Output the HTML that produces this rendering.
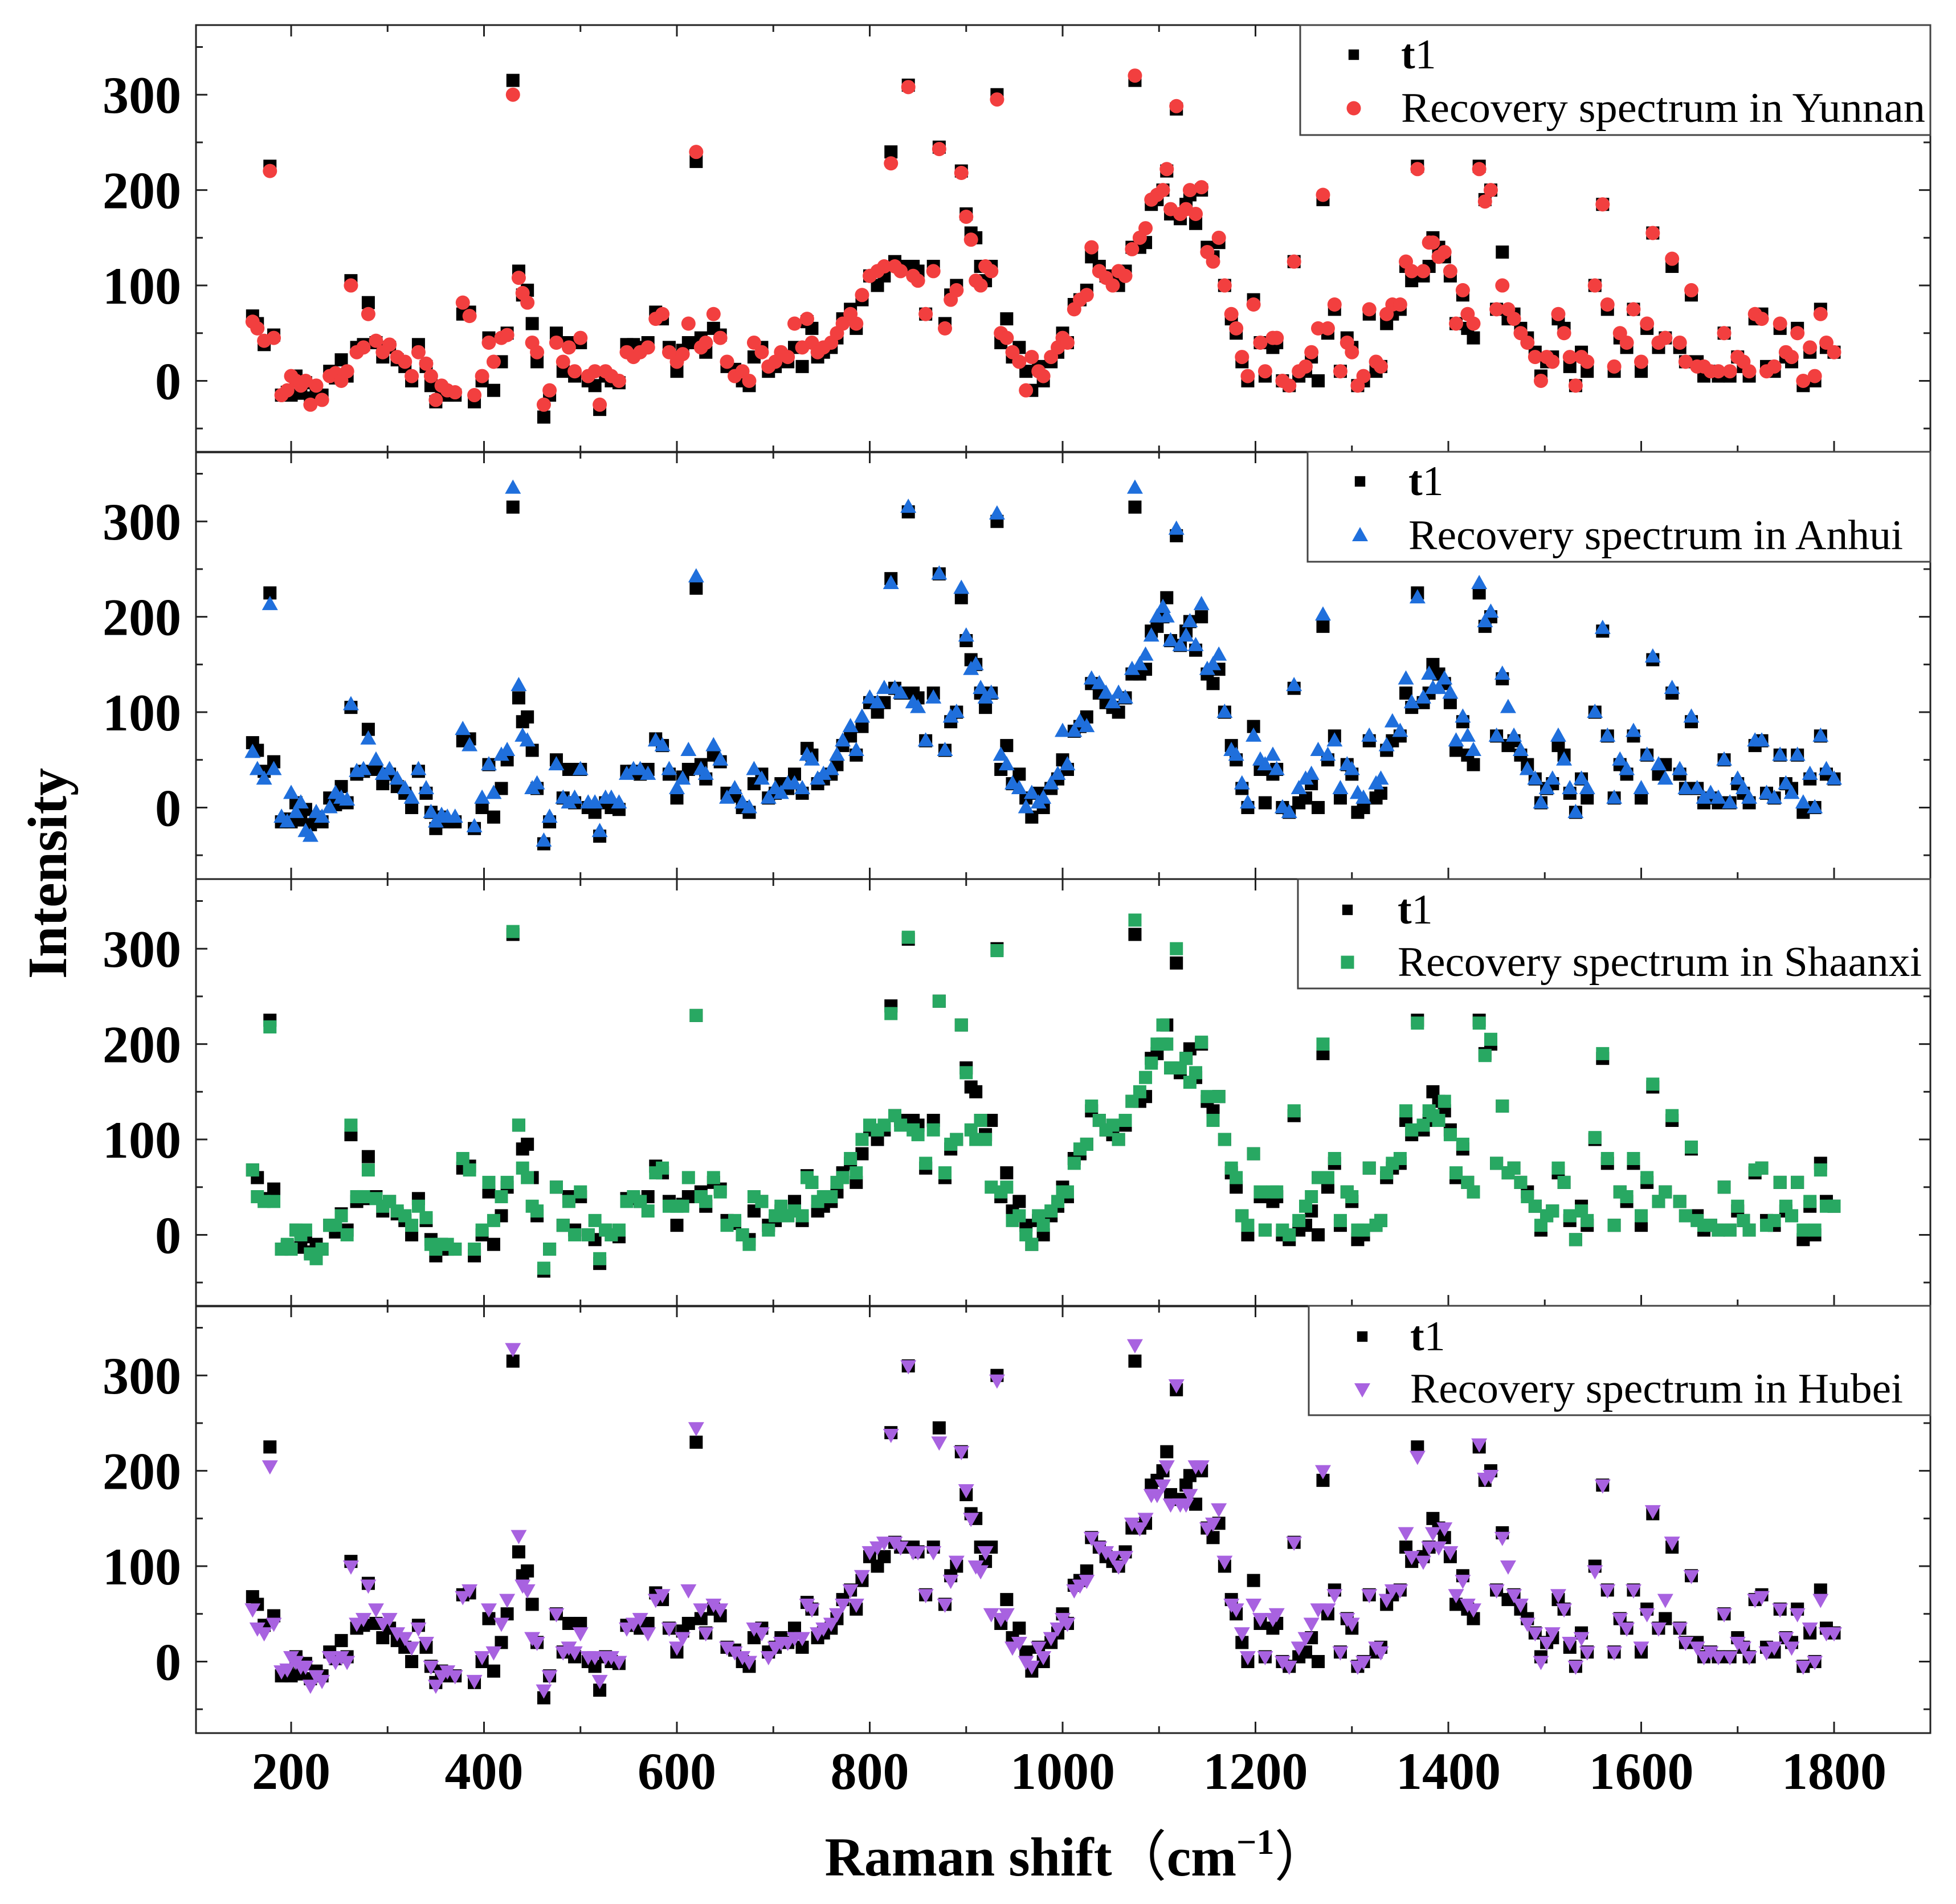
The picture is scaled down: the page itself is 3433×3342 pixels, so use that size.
<!DOCTYPE html>
<html><head><meta charset="utf-8"><style>
html,body{margin:0;padding:0;background:#fff;}
svg{display:block;}
text{font-family:"Liberation Serif","Noto Serif CJK SC",serif;}
</style></head><body>
<svg id="chart" width="3433" height="3342" viewBox="0 0 3433 3342" xmlns="http://www.w3.org/2000/svg">
<g id="frames"></g><g id="marks"></g><g id="axes"></g><g id="legends"></g>
<text x="0" y="0" transform="translate(116,1533) rotate(-90)" text-anchor="middle" font-size="98" font-weight="bold">Intensity</text>
<text x="1890" y="3292" text-anchor="middle" font-size="96" font-weight="bold">Raman shift<tspan font-family="Noto Sans CJK SC, sans-serif" font-weight="normal">（</tspan>cm<tspan dy="-38" font-size="62">−1</tspan><tspan dy="38" font-family="Noto Sans CJK SC, sans-serif" font-weight="normal">）</tspan></text>
</svg>
<script>
const xs=[160,165,172,178,182,190,196,200,205,210,
215,220,226,232,240,246,252,258,262,268,
275,280,288,295,302,310,318,325,332,340,
345,350,356,362,370,378,385,390,398,405,
410,418,424,430,436,440,445,450,455,462,
468,475,482,488,494,500,508,515,520,526,
532,540,548,555,562,570,578,585,592,600,
606,612,620,625,630,638,645,652,660,668,
675,680,688,695,702,708,715,722,730,735,
740,746,752,760,766,772,780,786,792,800,
808,815,822,826,832,840,845,850,858,866,
872,878,884,890,895,900,905,910,915,920,
926,932,936,942,948,955,962,968,975,980,
988,995,1000,1005,1012,1018,1025,1030,1038,1045,
1052,1058,1065,1072,1075,1080,1086,1092,1098,1104,
1108,1112,1118,1122,1128,1132,1138,1144,1150,1156,
1162,1168,1175,1180,1186,1192,1198,1205,1210,1218,
1222,1228,1235,1240,1245,1252,1258,1265,1270,1275,
1282,1288,1295,1300,1306,1312,1318,1325,1330,1336,
1342,1350,1356,1362,1368,1374,1380,1384,1390,1396,
1402,1408,1415,1420,1426,1432,1438,1444,1450,1456,
1462,1468,1475,1482,1490,1496,1502,1508,1514,1520,
1526,1532,1538,1544,1552,1560,1565,1572,1578,1585,
1592,1600,1606,1612,1618,1625,1632,1640,1646,1652,
1658,1665,1672,1680,1686,1692,1700,1706,1712,1718,
1725,1730,1738,1744,1750,1756,1762,1768,1775,1780,
1786,1792,1800];
const t1=[68,60,38,225,48,-15,-12,-15,5,-13,
-2,-18,-10,-15,10,3,22,5,105,35,
38,82,40,25,35,22,15,0,38,15,
-5,-22,-10,-15,-15,70,72,-22,0,45,
-10,20,50,315,115,90,95,60,20,-38,
-15,50,10,40,5,40,0,-5,-30,5,
0,-2,38,38,35,40,72,65,35,10,
32,40,230,45,30,55,48,15,12,0,
-5,25,35,10,15,25,20,35,15,62,
55,25,30,35,45,65,75,55,85,110,
100,110,240,125,120,310,120,115,70,120,
245,60,90,100,220,175,155,150,120,105,
120,300,40,65,25,35,10,-10,15,0,
20,30,50,40,80,85,95,130,120,110,
105,100,115,140,315,140,145,185,190,200,
220,175,285,170,185,195,165,200,140,130,
145,100,65,50,20,0,85,40,5,35,
40,0,-5,125,5,10,25,0,190,50,
75,10,45,35,-5,0,70,10,15,60,
70,75,120,105,225,110,120,150,140,130,
110,60,90,55,45,225,190,200,75,135,
65,70,55,45,30,5,20,25,65,55,
15,-5,30,10,100,185,75,10,45,35,
75,10,55,155,35,45,120,35,20,90,
20,5,10,5,50,5,25,15,5,65,
70,15,10,55,25,20,55,-5,30,0,
75,35,30];
const yunnan=[62,55,42,220,45,-15,-10,5,0,-5,
0,-25,-5,-20,5,8,0,10,100,30,
35,70,42,30,38,25,20,5,30,18,
5,-20,-5,-10,-12,82,68,-15,5,40,
20,45,48,300,108,92,82,40,30,-25,
-10,40,20,35,10,45,5,10,-25,10,
5,0,30,25,30,35,65,70,30,20,
28,60,240,35,40,70,45,20,5,10,
0,40,30,15,20,30,25,60,35,65,
40,30,35,40,50,60,70,60,90,110,
115,120,228,120,115,308,110,105,70,115,
243,55,85,95,218,172,148,105,100,120,
115,295,50,45,30,20,-10,25,10,5,
25,35,45,40,75,85,90,140,115,108,
100,115,110,138,320,150,160,190,195,200,
222,180,288,175,180,200,175,203,135,125,
150,100,70,55,25,5,80,40,10,45,
45,0,-5,125,10,15,30,55,195,55,
80,10,40,30,-5,5,75,20,15,70,
80,80,125,115,222,115,145,145,130,135,
115,60,95,70,60,222,188,200,75,100,
75,65,50,40,25,0,25,20,70,50,
25,-5,25,20,100,185,80,15,50,40,
75,20,60,155,40,45,128,40,20,95,
15,15,10,10,50,10,25,20,10,70,
65,10,15,60,30,25,50,0,35,5,
70,40,30];
const anhui=[58,40,30,213,40,-10,-15,15,-5,5,
-25,-30,-5,-10,0,15,10,8,108,38,
40,72,50,35,40,30,20,10,40,20,
-5,-15,-8,-10,-10,82,65,-20,10,45,
15,55,60,335,128,75,70,20,25,-35,
-10,45,10,5,10,40,5,5,-25,10,
10,5,35,40,40,35,70,65,40,20,
30,60,242,40,35,65,50,10,20,5,
0,40,30,10,20,15,25,25,20,55,
50,30,35,40,55,70,85,60,95,115,
110,125,235,125,120,315,110,105,70,115,
245,60,95,100,230,180,145,150,125,115,
120,308,55,45,25,20,0,15,5,10,
25,35,80,45,80,90,85,135,130,120,
110,120,115,145,335,150,160,180,200,210,
200,175,292,170,180,195,170,213,145,150,
160,100,60,55,25,5,75,50,45,55,
40,0,-5,128,20,30,35,60,202,55,
70,20,45,40,15,10,75,25,30,65,
90,80,135,110,220,115,140,125,125,135,
120,70,95,75,60,235,195,205,75,140,
105,75,60,40,30,5,20,30,75,50,
20,-5,30,20,100,188,75,10,50,40,
80,20,55,158,45,30,125,40,20,95,
20,10,15,10,50,5,30,20,10,70,
70,15,10,55,25,15,55,5,35,0,
75,40,30];
const shaanxi=[68,40,35,218,35,-15,-10,-15,5,0,
5,-20,-25,-15,10,10,20,0,115,40,
40,68,38,30,35,25,20,10,30,18,
-10,-15,-10,-10,-15,80,68,-15,5,55,
15,40,55,318,115,70,60,30,25,-35,
-15,50,10,35,0,45,0,15,-25,5,
0,5,35,40,35,25,65,70,30,30,
30,60,230,40,35,60,45,10,15,0,
-10,40,35,5,20,30,20,25,20,60,
55,35,40,40,55,60,80,65,100,115,
110,115,232,125,115,312,110,105,75,110,
245,65,95,100,220,170,110,100,120,100,
50,298,45,50,15,20,0,-10,20,10,
25,35,45,45,75,90,95,135,120,110,
115,100,120,140,330,150,165,180,200,220,
200,175,300,175,185,160,170,202,145,120,
145,100,70,60,20,10,85,45,5,45,
45,5,0,130,15,30,40,60,200,60,
80,15,45,40,5,5,70,10,15,65,
75,80,130,110,222,115,130,125,120,140,
105,65,95,55,45,222,188,205,75,135,
65,70,55,40,30,10,20,25,70,55,
20,-5,25,15,102,190,80,10,45,40,
80,20,60,158,35,45,125,35,20,92,
15,10,10,5,50,5,30,15,5,68,
70,10,15,55,30,20,55,5,35,5,
68,30,30];
const hubei=[55,35,30,205,40,-10,-8,5,0,-5,
-5,-25,-15,-20,5,0,5,0,100,40,
45,80,55,40,45,30,25,15,35,20,
-5,-25,-15,-10,-15,68,75,-20,5,55,
10,40,65,328,132,80,75,25,20,-30,
-15,50,10,15,10,30,5,5,-20,5,
5,0,35,40,45,30,65,70,35,15,
25,75,245,55,30,60,55,15,10,5,
0,35,30,5,15,20,20,25,25,60,
55,30,35,40,50,60,75,60,90,115,
120,125,238,125,120,310,115,115,70,115,
230,60,85,105,220,180,150,100,95,115,
50,295,45,50,15,20,0,-5,15,5,
25,35,45,40,75,80,85,130,120,115,
110,100,110,145,332,140,150,175,175,185,
205,165,290,165,165,175,205,205,140,145,
160,105,60,55,30,5,60,45,5,45,
50,0,-5,125,15,25,40,55,200,55,
70,10,45,40,-5,0,70,15,10,65,
75,75,135,110,215,105,120,135,120,140,
115,70,85,60,55,228,192,195,75,130,
100,70,60,40,30,0,20,30,70,55,
20,-5,25,10,95,185,75,10,45,35,
75,15,50,158,35,65,125,35,20,90,
15,5,10,5,50,5,20,15,5,65,
68,10,15,55,25,15,50,-5,35,0,
65,30,30];
const yTicks=[0,100,200,300];
const yMinor=[-50,50,150,250,350];
const xTicks=[200,400,600,800,1000,1200,1400,1600,1800];
const xMinor=[300,500,700,900,1100,1300,1500,1700];
const panelNames=["Yunnan","Anhui","Shaanxi","Hubei"];

const NS="http://www.w3.org/2000/svg";
const L=344,R=3388,tops=[44,793,1543,2292],PH=750,YMIN=-75,YMAX=373;
function X(v){return 172.5+1.6925*v;}
function Y(p,v){return tops[p]+(YMAX-v)*PH/(YMAX-YMIN);}
function mk(tag,attrs,parent){const e=document.createElementNS(NS,tag);for(const k in attrs)e.setAttribute(k,attrs[k]);parent.appendChild(e);return e;}
const frames=document.getElementById('frames'),marks=document.getElementById('marks'),axes=document.getElementById('axes'),legends=document.getElementById('legends');
const series=[{ys:yunnan,color:'#f23f3f',shape:'circle'},{ys:anhui,color:'#1f6fdc',shape:'up'},{ys:shaanxi,color:'#28a862',shape:'square'},{ys:hubei,color:'#a862e0',shape:'down'}];
function marker(shape,cx,cy,color,parent,name){
  let e;
  if(shape==='square'){e=mk('rect',{x:cx-11.5,y:cy-11.5,width:23,height:23,fill:color},parent);}
  else if(shape==='circle'){e=mk('circle',{cx:cx,cy:cy,r:12.5,fill:color},parent);}
  else if(shape==='up'){e=mk('polygon',{points:`${cx},${cy-15} ${cx+14},${cy+10} ${cx-14},${cy+10}`,fill:color},parent);}
  else {e=mk('polygon',{points:`${cx},${cy+15} ${cx+14},${cy-10} ${cx-14},${cy-10}`,fill:color},parent);}
  
  
  return e;
}
for(let p=0;p<4;p++){
  const t=tops[p],b=t+PH;
  const fr=mk('rect',{x:L,y:t,width:R-L,height:PH,fill:'none',stroke:'#222','stroke-width':3},frames);
  
  
  yTicks.forEach(v=>{const y=Y(p,v);
    mk('line',{x1:L,y1:y,x2:L+20,y2:y,stroke:'#222','stroke-width':3},axes);
    mk('line',{x1:R,y1:y,x2:R-20,y2:y,stroke:'#222','stroke-width':3},axes);
    const tx=mk('text',{x:318,y:y+32,'text-anchor':'end','font-size':92,'font-weight':'bold'},axes);tx.textContent=v;
    
    
  });
  yMinor.forEach(v=>{const y=Y(p,v);
    mk('line',{x1:L,y1:y,x2:L+12,y2:y,stroke:'#222','stroke-width':3},axes);
    mk('line',{x1:R,y1:y,x2:R-12,y2:y,stroke:'#222','stroke-width':3},axes);
  });
  xTicks.forEach(v=>{const x=X(v);
    mk('line',{x1:x,y1:b,x2:x,y2:b-20,stroke:'#222','stroke-width':3},axes);
    mk('line',{x1:x,y1:t,x2:x,y2:t+20,stroke:'#222','stroke-width':3},axes);
    if(p===3){const tx=mk('text',{x:x,y:b+98,'text-anchor':'middle','font-size':92,'font-weight':'bold'},axes);tx.textContent=v;
      
      }
  });
  xMinor.forEach(v=>{const x=X(v);
    mk('line',{x1:x,y1:b,x2:x,y2:b-12,stroke:'#222','stroke-width':3},axes);
    mk('line',{x1:x,y1:t,x2:x,y2:t+12,stroke:'#222','stroke-width':3},axes);
  });
  const g=mk('g',{},marks);
  
  
  const n1=Math.min(xs.length,t1.length);
  for(let i=0;i<n1;i++) marker('square',X(xs[i]),Y(p,t1[i]),'#000',g,'t1-point');
  const s=series[p];const n2=Math.min(xs.length,s.ys.length);
  for(let i=0;i<n2;i++) marker(s.shape,X(xs[i]),Y(p,s.ys[i]),s.color,g,'recovery-point');
}
const legs=[{x:2282,y:44,h:193,sx:2376,tx:2459,r1:96,r2:190,w:920},
{x:2295,y:793,h:193,sx:2387,tx:2472,r1:845,r2:940,w:868},
{x:2278,y:1543,h:192,sx:2365,tx:2453,r1:1597,r2:1689,w:920},
{x:2297,y:2292,h:192,sx:2391,tx:2475,r1:2346,r2:2438,w:865}];
legs.forEach((l,p)=>{
  const g=mk('g',{},legends);
  
  
  mk('rect',{x:l.x,y:l.y,width:R-l.x,height:l.h,fill:'#fff',stroke:'#444','stroke-width':3},g);
  marker('square',l.sx,l.r1,'#000',g,'legend-t1-symbol').setAttribute('transform',`translate(${l.sx},${l.r1}) scale(0.8) translate(${-l.sx},${-l.r1})`);
  const t=mk('text',{x:l.tx,y:l.r1+24,'font-size':74},g);t.innerHTML='<tspan font-weight="bold">t</tspan>1';
  
  
  const s=series[p];
  marker(s.shape,l.sx,l.r2,s.color,g,'legend-recovery-symbol');
  const t2=mk('text',{x:l.tx,y:l.r2+24,'font-size':74,textLength:l.w,lengthAdjust:'spacingAndGlyphs'},g);
  t2.textContent='Recovery spectrum in '+panelNames[p];
  
  
});
</script>
</body></html>
